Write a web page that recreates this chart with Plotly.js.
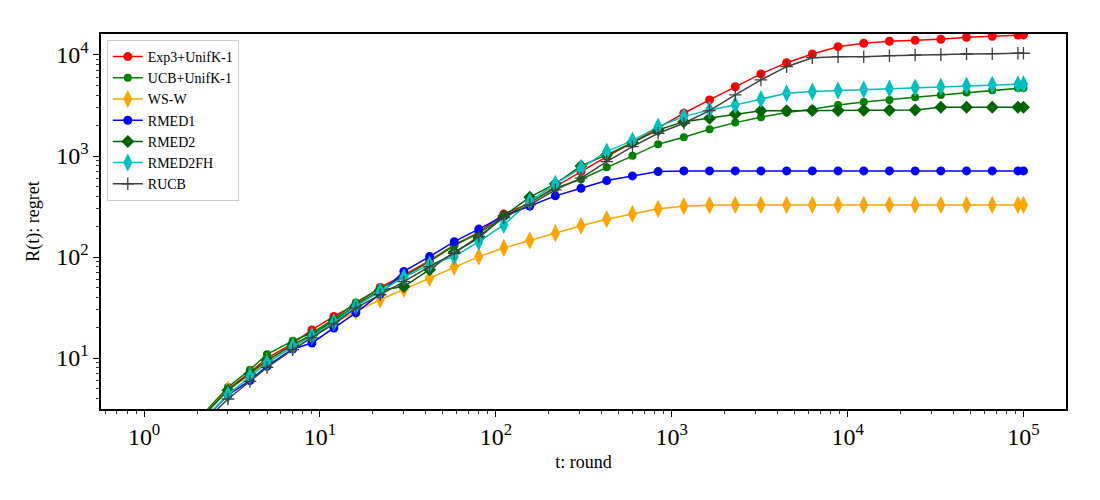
<!DOCTYPE html>
<html>
<head>
<meta charset="utf-8">
<script src="https://cdn.plot.ly/plotly-3.0.1.min.js"></script>
<style>
  html, body { margin: 0; padding: 0; background: #fff; }
  #chartDiv { width: 1100px; height: 500px; }
</style>
</head>
<body>
<div id="chartDiv"></div>
<script>
// rounds where regret was recorded
var rounds = [1, 2, 3, 4, 5, 7, 9, 12, 16, 22, 30, 42, 58, 80, 111, 156, 218, 305, 427, 598,
  837, 1172, 1641, 2297, 3216, 4502, 6303, 8824, 12354, 17295, 24213, 33899, 47458, 66441, 93018, 100000];

var exp3Unif = [1.1, 2.3, 4.9, 7.2, 10, 14, 19, 25.8, 34, 50, 66, 92, 132, 175, 267, 341, 498, 701, 986, 1357,
  1885, 2650, 3590, 4850, 6490, 8390, 10230, 12080, 13050, 13670, 13970, 14300, 14970, 15310, 15780, 15800];
var ucbUnif = [1.1, 2.4, 5.16, 7.66, 10.9, 14.8, 17.7, 24.3, 35.5, 49, 64, 90, 130, 172, 250, 345, 480, 589, 774, 1003,
  1309, 1535, 1842, 2140, 2420, 2690, 2900, 3200, 3430, 3590, 3820, 4020, 4240, 4480, 4720, 4720];
var wsw = [1.1, 2.3, 4.85, 6.8, 9.2, 13, 16.5, 22, 29, 37.8, 48, 62, 80, 101, 123, 146, 172, 204, 237, 267,
  300, 318, 326, 328, 328, 328, 328, 328, 328, 328, 328, 328, 328, 328, 328, 328];
var rmed1 = [1.0, 2.1, 4.3, 6.0, 8.3, 12.3, 14.1, 19.8, 28, 43, 72, 101, 142, 189, 255, 320, 403, 480, 571, 635,
  701, 712, 712, 712, 712, 712, 712, 712, 712, 712, 712, 712, 712, 712, 712, 712];
var rmed2 = [1.1, 2.3, 4.8, 7.0, 9.5, 13.5, 17, 23.5, 33, 47, 51, 75, 112, 154, 255, 391, 530, 798, 1026, 1357,
  1812, 2188, 2370, 2610, 2810, 2810, 2820, 2820, 2830, 2840, 2850, 3040, 3040, 3040, 3040, 3040];
var rmed2fh = [1.0, 2.1, 4.34, 6.58, 8.92, 13.0, 16.4, 22.5, 32.4, 45.6, 63, 84, 101, 142, 208, 354, 530, 757, 1107, 1420,
  1955, 2455, 2860, 3200, 3650, 4180, 4340, 4440, 4540, 4650, 4760, 4860, 4970, 5080, 5130, 5130];
var rucb = [1.0, 2.0, 3.93, 5.87, 8.07, 12.1, 15.8, 21.8, 31.2, 42.3, 57, 80.5, 109, 160, 246, 328, 462, 603, 881, 1239,
  1680, 2110, 2810, 4020, 5660, 7660, 9400, 9620, 9620, 9840, 10000, 10070, 10230, 10300, 10400, 10400];

var names = ["Exp3+UnifK-1", "UCB+UnifK-1", "WS-W", "RMED1", "RMED2", "RMED2FH", "RUCB"];
var series = [exp3Unif, ucbUnif, wsw, rmed1, rmed2, rmed2fh, rucb];
var colors = ["#ff0000", "#008000", "#ffa500", "#0000ff", "#006400", "#00bfbf", "#404040"];
var symbols = ["circle", "circle", "diamond-tall", "circle", "diamond", "diamond-tall", "cross-thin"];
var sizes = [9, 8, 13, 9, 10, 13, 9];

var xMajor = [1, 10, 100, 1000, 10000, 100000];
var xMajorText = ["10<sup>0</sup>", "10<sup>1</sup>", "10<sup>2</sup>", "10<sup>3</sup>", "10<sup>4</sup>", "10<sup>5</sup>"];
var yMajor = [10, 100, 1000, 10000];
var yMajorText = ["10<sup>1</sup>", "10<sup>2</sup>", "10<sup>3</sup>", "10<sup>4</sup>"];

// minor ticks at 2..9 of every decade
function minorTicks(lo, hi) {
  var out = [];
  for (var d = lo; d <= hi; d++) {
    for (var m = 2; m <= 9; m++) out.push(m * Math.pow(10, d));
  }
  return out;
}

var traces = [];
for (let i = 0; i < series.length; i++) {
  var mk = { color: colors[i], size: sizes[i], symbol: symbols[i] };
  if (symbols[i] === "cross-thin") {
    mk.line = { color: colors[i], width: 1.3 };
  }
  traces.push({
    x: rounds,
    y: series[i],
    type: "scatter",
    mode: "lines+markers",
    name: names[i],
    line: { color: colors[i], width: 1.5 },
    marker: mk,
    cliponaxis: true
  });
}

var serif = "'Liberation Serif', 'DejaVu Serif', serif";

var layout = {
  width: 1100,
  height: 500,
  paper_bgcolor: "#fff",
  plot_bgcolor: "#fff",
  font: { family: serif, color: "#000" },
  margin: { l: 101, r: 34, t: 34, b: 91 },
  showlegend: true,
  legend: {
    x: 0.006, y: 0.984, xanchor: "left", yanchor: "top",
    bgcolor: "rgba(255,255,255,0.8)",
    bordercolor: "#cccccc",
    borderwidth: 1,
    font: { family: serif, size: 14, color: "#000" },
    tracegroupgap: 0
  },
  xaxis: {
    type: "log",
    range: [Math.log10(0.569), Math.log10(174500)],
    tickmode: "array",
    tickvals: xMajor,
    ticktext: xMajorText,
    tickfont: { size: 24 },
    ticks: "outside", ticklen: 6, tickwidth: 1, tickcolor: "#000",
    minor: { tickmode: "array", tickvals: minorTicks(-1, 5), ticks: "outside", ticklen: 3, tickwidth: 0.8, tickcolor: "#000" },
    showgrid: false, zeroline: false,
    showline: true, linecolor: "#000", linewidth: 1.6, mirror: true,
    title: { text: "t: round", font: { size: 18 }, standoff: 6 },
    automargin: false
  },
  yaxis: {
    type: "log",
    range: [Math.log10(3.13), Math.log10(16130)],
    tickmode: "array",
    tickvals: yMajor,
    ticktext: yMajorText,
    tickfont: { size: 24 },
    ticks: "outside", ticklen: 6, tickwidth: 1, tickcolor: "#000",
    minor: { tickmode: "array", tickvals: minorTicks(0, 4), ticks: "outside", ticklen: 3, tickwidth: 0.8, tickcolor: "#000" },
    showgrid: false, zeroline: false,
    showline: true, linecolor: "#000", linewidth: 1.6, mirror: true,
    title: { text: "R(t): regret", font: { size: 18 }, standoff: 12 },
    automargin: false
  }
};

Plotly.newPlot("chartDiv", traces, layout, { displayModeBar: false, staticPlot: true });
</script>
</body>
</html>
